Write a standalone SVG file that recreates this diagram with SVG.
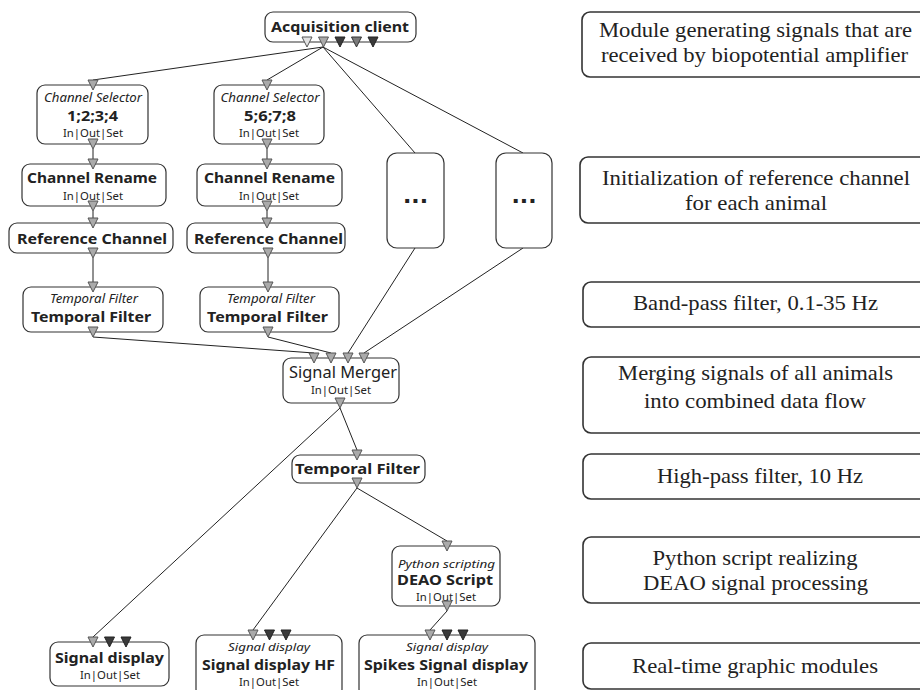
<svg xmlns="http://www.w3.org/2000/svg" xmlns:xlink="http://www.w3.org/1999/xlink" width="920" height="690" viewBox="0 0 920 690">
<defs>
<style>
.nb{fill:#fff;stroke:#333;stroke-width:1.2}
.rb{fill:#fff;stroke:#333;stroke-width:1.6}
.t{font-family:"Noto Sans","Open Sans",sans-serif;fill:#222;text-anchor:middle}
.b{font-weight:bold;font-size:15px}
.i{font-style:italic;font-size:12px}
.i2{font-style:italic;font-size:11px}
.s{font-size:11.5px}
.r{font-family:"Liberation Serif","Times New Roman",serif;font-size:21px;fill:#222;text-anchor:middle}
.e{fill:none;stroke:#222;stroke-width:1}
.tin{fill:#aaa;stroke:#555;stroke-width:1}
.tl{fill:#e2e2e2;stroke:#555;stroke-width:1}
.td{fill:#3a3a3a;stroke:#222;stroke-width:1}
.tm{fill:#7a7a7a;stroke:#333;stroke-width:1}
.dots{font-family:"DejaVu Sans",sans-serif;font-weight:bold;font-size:22px;fill:#222;text-anchor:middle}
</style>
<path id="tri" d="M-5,-5 L5,-5 L0,5 Z"/>
</defs>
<rect width="920" height="690" fill="#fff"/>

<g id="connectors">
<path class="e" d="M323,47 L93,80"/>
<path class="e" d="M323,47 L267,80"/>
<path class="e" d="M323,47 L415,153"/>
<path class="e" d="M323,47 L523,153"/>
<path class="e" d="M93,149 L93,159"/>
<path class="e" d="M93,211 L93,218"/>
<path class="e" d="M93,258 L93,282"/>
<path class="e" d="M267,149 L267,159"/>
<path class="e" d="M267,211 L267,218"/>
<path class="e" d="M268,258 L268,282"/>
<path class="e" d="M93,337 L314,353"/>
<path class="e" d="M268,337 L331,353"/>
<path class="e" d="M415,248 L348,353"/>
<path class="e" d="M523,248 L364,353"/>
<path class="e" d="M340,408 L357,450"/>
<path class="e" d="M340,408 L93,637"/>
<path class="e" d="M357,488 L253,630"/>
<path class="e" d="M357,488 L447,541"/>
<path class="e" d="M447,611 L430,630"/>
</g>

<g id="acq">
<rect class="nb" x="265" y="12" width="151" height="30" rx="8"/>
<text class="t b" x="340" y="32" textLength="138" lengthAdjust="spacingAndGlyphs">Acquisition client</text>
<use href="#tri" x="307" y="42" class="tl"/>
<use href="#tri" x="323.5" y="42" class="tin"/>
<use href="#tri" x="340" y="42" class="td"/>
<use href="#tri" x="356.5" y="42" class="tm"/>
<use href="#tri" x="373" y="42" class="td"/>
</g>

<g id="cs1">
<rect class="nb" x="37" y="85" width="111" height="59" rx="8"/>
<text class="t i" x="93" y="102" textLength="98" lengthAdjust="spacingAndGlyphs">Channel Selector</text>
<text class="t b" x="92.5" y="121" textLength="51" lengthAdjust="spacingAndGlyphs">1;2;3;4</text>
<text class="t s" x="93" y="137" textLength="60" lengthAdjust="spacingAndGlyphs">In|Out|Set</text>
<use href="#tri" x="93" y="85" class="tin"/>
<use href="#tri" x="93" y="144" class="tin"/>
</g>

<g id="cs2">
<rect class="nb" x="214" y="85" width="110" height="59" rx="8"/>
<text class="t i" x="270" y="102" textLength="99" lengthAdjust="spacingAndGlyphs">Channel Selector</text>
<text class="t b" x="270" y="121" textLength="52" lengthAdjust="spacingAndGlyphs">5;6;7;8</text>
<text class="t s" x="269" y="137" textLength="60" lengthAdjust="spacingAndGlyphs">In|Out|Set</text>
<use href="#tri" x="267" y="85" class="tin"/>
<use href="#tri" x="267" y="144" class="tin"/>
</g>

<g id="cr1">
<rect class="nb" x="22" y="164" width="144" height="42" rx="8"/>
<text class="t b" x="92" y="183" textLength="130" lengthAdjust="spacingAndGlyphs">Channel Rename</text>
<text class="t s" x="93" y="200" textLength="60" lengthAdjust="spacingAndGlyphs">In|Out|Set</text>
<use href="#tri" x="93" y="164" class="tin"/>
<use href="#tri" x="93" y="206" class="tin"/>
</g>

<g id="cr2">
<rect class="nb" x="197" y="164" width="145" height="42" rx="8"/>
<text class="t b" x="269.5" y="183" textLength="131" lengthAdjust="spacingAndGlyphs">Channel Rename</text>
<text class="t s" x="269" y="200" textLength="60" lengthAdjust="spacingAndGlyphs">In|Out|Set</text>
<use href="#tri" x="267" y="164" class="tin"/>
<use href="#tri" x="267" y="206" class="tin"/>
</g>

<g id="rc1">
<rect class="nb" x="9" y="223" width="164" height="30" rx="8"/>
<text class="t b" x="92" y="244" textLength="150" lengthAdjust="spacingAndGlyphs">Reference Channel</text>
<use href="#tri" x="93" y="223" class="tin"/>
<use href="#tri" x="93" y="253" class="tin"/>
</g>

<g id="rc2">
<rect class="nb" x="187" y="223" width="158" height="30" rx="8"/>
<text class="t b" x="268.5" y="244" textLength="149" lengthAdjust="spacingAndGlyphs">Reference Channel</text>
<use href="#tri" x="267" y="223" class="tin"/>
<use href="#tri" x="268" y="253" class="tin"/>
</g>

<g id="tf1">
<rect class="nb" x="23" y="287" width="140" height="45" rx="8"/>
<text class="t i" x="94" y="303" textLength="88" lengthAdjust="spacingAndGlyphs">Temporal Filter</text>
<text class="t b" x="91" y="322" textLength="120" lengthAdjust="spacingAndGlyphs">Temporal Filter</text>
<use href="#tri" x="93" y="287" class="tin"/>
<use href="#tri" x="93" y="332" class="tin"/>
</g>

<g id="tf2">
<rect class="nb" x="200" y="287" width="139" height="45" rx="8"/>
<text class="t i" x="271" y="303" textLength="88" lengthAdjust="spacingAndGlyphs">Temporal Filter</text>
<text class="t b" x="267.5" y="322" textLength="121" lengthAdjust="spacingAndGlyphs">Temporal Filter</text>
<use href="#tri" x="268" y="287" class="tin"/>
<use href="#tri" x="268" y="332" class="tin"/>
</g>

<g id="more1">
<rect class="nb" x="387" y="153" width="57" height="95" rx="10"/>
<text class="dots" x="415.5" y="203">...</text>
</g>

<g id="more2">
<rect class="nb" x="496" y="153" width="56" height="95" rx="10"/>
<text class="dots" x="524" y="203">...</text>
</g>

<g id="merger">
<rect class="nb" x="283" y="358" width="116" height="45" rx="8"/>
<text class="t" x="343" y="378" font-size="16" textLength="108" lengthAdjust="spacingAndGlyphs">Signal Merger</text>
<text class="t s" x="341" y="394" textLength="60" lengthAdjust="spacingAndGlyphs">In|Out|Set</text>
<use href="#tri" x="314" y="358" class="tin"/>
<use href="#tri" x="331" y="358" class="tin"/>
<use href="#tri" x="348" y="358" class="tin"/>
<use href="#tri" x="364" y="358" class="tin"/>
<use href="#tri" x="340" y="403" class="tin"/>
</g>

<g id="tfmid">
<rect class="nb" x="292" y="455" width="133" height="28" rx="8"/>
<text class="t b" x="357.5" y="474" textLength="125" lengthAdjust="spacingAndGlyphs">Temporal Filter</text>
<use href="#tri" x="357" y="455" class="tin"/>
<use href="#tri" x="357" y="483" class="tin"/>
</g>

<g id="deao">
<rect class="nb" x="392" y="546" width="108" height="60" rx="8"/>
<text class="t i2" x="446.5" y="568" textLength="97" lengthAdjust="spacingAndGlyphs">Python scripting</text>
<text class="t b" x="445" y="585" textLength="96" lengthAdjust="spacingAndGlyphs">DEAO Script</text>
<text class="t s" x="446" y="601" font-size="11" textLength="60" lengthAdjust="spacingAndGlyphs">In|Out|Set</text>
<use href="#tri" x="447" y="546" class="tin"/>
<use href="#tri" x="447" y="606" class="tin"/>
</g>

<g id="sd">
<rect class="nb" x="50" y="642" width="119" height="44" rx="8"/>
<text class="t b" x="109.5" y="663" textLength="109" lengthAdjust="spacingAndGlyphs">Signal display</text>
<text class="t s" x="110" y="679" textLength="60" lengthAdjust="spacingAndGlyphs">In|Out|Set</text>
<use href="#tri" x="93" y="642" class="tin"/>
<use href="#tri" x="109.5" y="642" class="td"/>
<use href="#tri" x="126" y="642" class="td"/>
</g>

<g id="sdhf">
<rect class="nb" x="196" y="635" width="146" height="62" rx="8"/>
<text class="t i2" x="269" y="651" textLength="82" lengthAdjust="spacingAndGlyphs">Signal display</text>
<text class="t b" x="268.5" y="670" textLength="133" lengthAdjust="spacingAndGlyphs">Signal display HF</text>
<text class="t s" x="269" y="686" textLength="60" lengthAdjust="spacingAndGlyphs">In|Out|Set</text>
<use href="#tri" x="253" y="635" class="tin"/>
<use href="#tri" x="269.5" y="635" class="td"/>
<use href="#tri" x="286" y="635" class="td"/>
</g>

<g id="spikes">
<rect class="nb" x="359" y="635" width="176" height="62" rx="8"/>
<text class="t i2" x="447" y="651" textLength="82" lengthAdjust="spacingAndGlyphs">Signal display</text>
<text class="t b" x="446" y="670" textLength="164" lengthAdjust="spacingAndGlyphs">Spikes Signal display</text>
<text class="t s" x="447" y="686" textLength="60" lengthAdjust="spacingAndGlyphs">In|Out|Set</text>
<use href="#tri" x="430" y="635" class="tin"/>
<use href="#tri" x="447" y="635" class="td"/>
<use href="#tri" x="463" y="635" class="td"/>
</g>

<g id="note1">
<rect class="rb" x="582" y="12" width="360" height="65" rx="8"/>
<text class="r" x="755.5" y="37" textLength="313" lengthAdjust="spacingAndGlyphs">Module generating signals that are</text>
<text class="r" x="754.5" y="62" textLength="307" lengthAdjust="spacingAndGlyphs">received by biopotential amplifier</text>
</g>
<g id="note2">
<rect class="rb" x="580" y="157" width="362" height="66" rx="8"/>
<text class="r" x="756" y="185" textLength="308" lengthAdjust="spacingAndGlyphs">Initialization of reference channel</text>
<text class="r" x="756" y="210" textLength="142" lengthAdjust="spacingAndGlyphs">for each animal</text>
</g>
<g id="note3">
<rect class="rb" x="583" y="282" width="359" height="45" rx="8"/>
<text class="r" x="755.5" y="310" textLength="245" lengthAdjust="spacingAndGlyphs">Band-pass filter, 0.1-35 Hz</text>
</g>
<g id="note4">
<rect class="rb" x="583" y="357" width="359" height="76" rx="8"/>
<text class="r" x="755.5" y="380" textLength="275" lengthAdjust="spacingAndGlyphs">Merging signals of all animals</text>
<text class="r" x="755" y="408" textLength="222" lengthAdjust="spacingAndGlyphs">into combined data flow</text>
</g>
<g id="note5">
<rect class="rb" x="583" y="454" width="359" height="45" rx="8"/>
<text class="r" x="760" y="483" textLength="206" lengthAdjust="spacingAndGlyphs">High-pass filter, 10 Hz</text>
</g>
<g id="note6">
<rect class="rb" x="583" y="537" width="359" height="66" rx="8"/>
<text class="r" x="755" y="565" textLength="205" lengthAdjust="spacingAndGlyphs">Python script realizing</text>
<text class="r" x="755.5" y="590" textLength="225" lengthAdjust="spacingAndGlyphs">DEAO signal processing</text>
</g>
<g id="note7">
<rect class="rb" x="583" y="643" width="359" height="46" rx="8"/>
<text class="r" x="755" y="673" textLength="246" lengthAdjust="spacingAndGlyphs">Real-time graphic modules</text>
</g>
</svg>
